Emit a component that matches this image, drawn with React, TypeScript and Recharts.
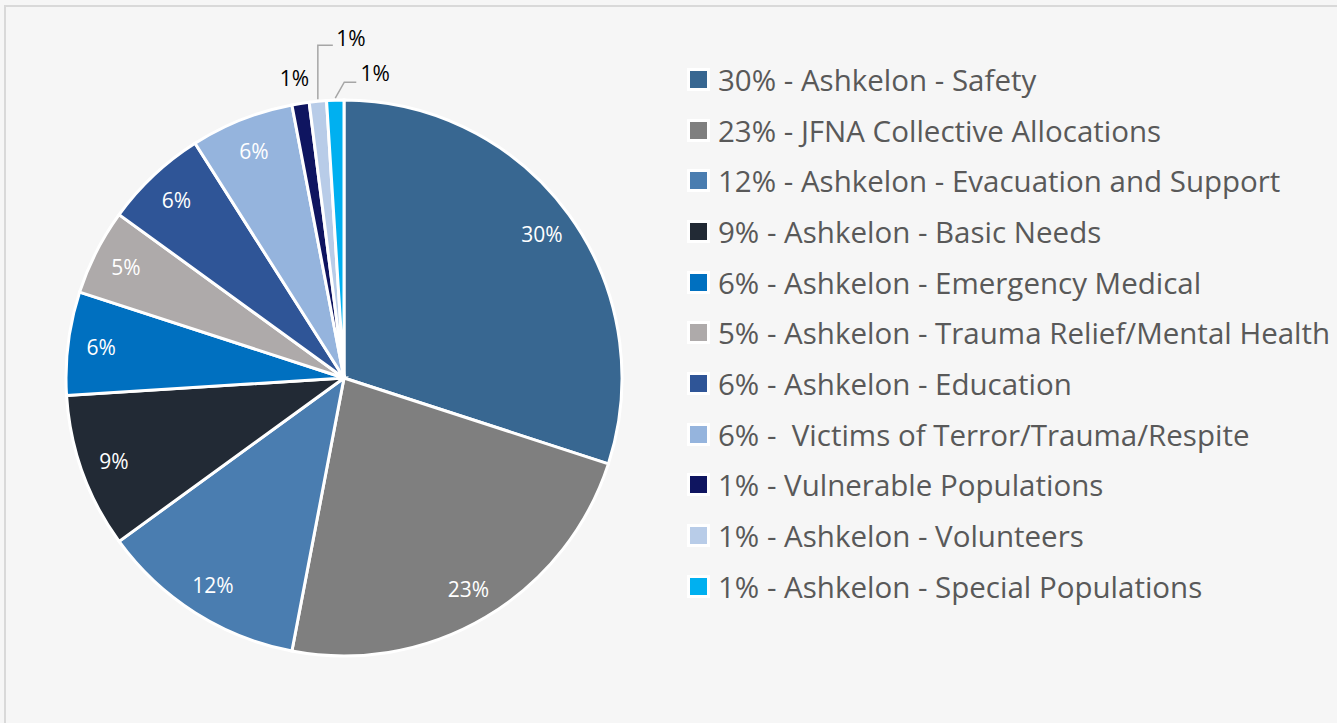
import { Cell, Legend, Pie, PieChart } from "recharts";

const names = [
  "30% - Ashkelon - Safety",
  "23% - JFNA Collective Allocations",
  "12% - Ashkelon - Evacuation and Support",
  "9% - Ashkelon - Basic Needs",
  "6% - Ashkelon - Emergency Medical",
  "5% - Ashkelon - Trauma Relief/Mental Health",
  "6% - Ashkelon - Education",
  "6% -  Victims of Terror/Trauma/Respite",
  "1% - Vulnerable Populations",
  "1% - Ashkelon - Volunteers",
  "1% - Ashkelon - Special Populations",
];
const values = [30, 23, 12, 9, 6, 5, 6, 6, 1, 1, 1];
const colors = [
  "#386791",
  "#7f7f7f",
  "#4a7db0",
  "#222a35",
  "#0070c0",
  "#aeaaaa",
  "#2f5597",
  "#95b4dd",
  "#0f1560",
  "#b8cce8",
  "#00b0f0",
];

const data = names.map((name, i) => ({ name, value: values[i] }));

const RAD = Math.PI / 180;
const labelFont = "'Open Sans', sans-serif";

function Txt({ x, y, fill, children }: { x: number; y: number; fill: string; children: string }) {
  return (
    <text
      x={x}
      y={y}
      fill={fill}
      textAnchor="middle"
      dominantBaseline="central"
      style={{ fontSize: 21, fontFamily: labelFont }}
    >
      {children}
    </text>
  );
}

function renderLabel(props: any) {
  const { cx, cy, midAngle, outerRadius, index, value } = props;
  const cos = Math.cos(-midAngle * RAD);
  const sin = Math.sin(-midAngle * RAD);
  const text = `${value}%`;
  if (value > 1) {
    const r = outerRadius * 0.88;
    return <Txt x={cx + r * cos} y={cy + r * sin} fill="#ffffff">{text}</Txt>;
  }
  const ox = cx + outerRadius * cos;
  const oy = cy + outerRadius * sin;
  if (index === 8) {
    return <Txt x={ox - 6} y={oy - 25} fill="#000000">{text}</Txt>;
  }
  if (index === 9) {
    return (
      <g>
        <polyline points={`${ox},${oy - 2} ${ox},${oy - 56} ${ox + 15},${oy - 56}`} fill="none" stroke="#a6a6a6" strokeWidth={1.5} />
        <Txt x={ox + 33} y={oy - 63} fill="#000000">{text}</Txt>
      </g>
    );
  }
  return (
    <g>
      <polyline points={`${ox},${oy - 2} ${ox + 9},${oy - 18} ${ox + 21},${oy - 18}`} fill="none" stroke="#a6a6a6" strokeWidth={1.5} />
      <Txt x={ox + 40} y={oy - 27} fill="#000000">{text}</Txt>
    </g>
  );
}

function LegendList() {
  return (
    <div style={{ display: "flex", flexDirection: "column" }}>
      {names.map((name, i) => (
        <div key={name} style={{ display: "flex", alignItems: "center", height: 50.7 }}>
          <span
            style={{
              width: 17,
              height: 17,
              background: colors[i],
              border: "3px solid #ffffff",
              marginRight: 8,
              flex: "none",
            }}
          />
          <span style={{ fontSize: 29.5, color: "#595959", whiteSpace: "pre", fontFamily: labelFont }}>
            {name}
          </span>
        </div>
      ))}
    </div>
  );
}

export default function App() {
  return (
    <div
      style={{
        position: "absolute",
        left: 0,
        top: 0,
        width: 1337,
        height: 723,
        background: "#f6f6f6",
        overflow: "hidden",
      }}
    >
      <div
        style={{
          position: "absolute",
          left: 4,
          top: 5,
          width: 1400,
          height: 800,
          borderTop: "2px solid #d9d9d9",
          borderLeft: "2px solid #d9d9d9",
        }}
      />
      <div style={{ position: "absolute", left: 0, top: 0 }}>
        <PieChart width={1337} height={723} margin={{ top: 0, right: 0, bottom: 0, left: 0 }}>
          <Pie
            data={data}
            dataKey="value"
            nameKey="name"
            cx={344}
            cy={378}
            outerRadius={278}
            startAngle={90}
            endAngle={-270}
            stroke="#ffffff"
            strokeWidth={3}
            label={renderLabel}
            labelLine={false}
            isAnimationActive={false}
          >
            {data.map((d, i) => (
              <Cell key={d.name} fill={colors[i]} />
            ))}
          </Pie>
          <Legend
            content={() => <LegendList />}
            layout="vertical"
            wrapperStyle={{ position: "absolute", left: 687, top: 54, width: 650 }}
          />
        </PieChart>
      </div>
    </div>
  );
}
